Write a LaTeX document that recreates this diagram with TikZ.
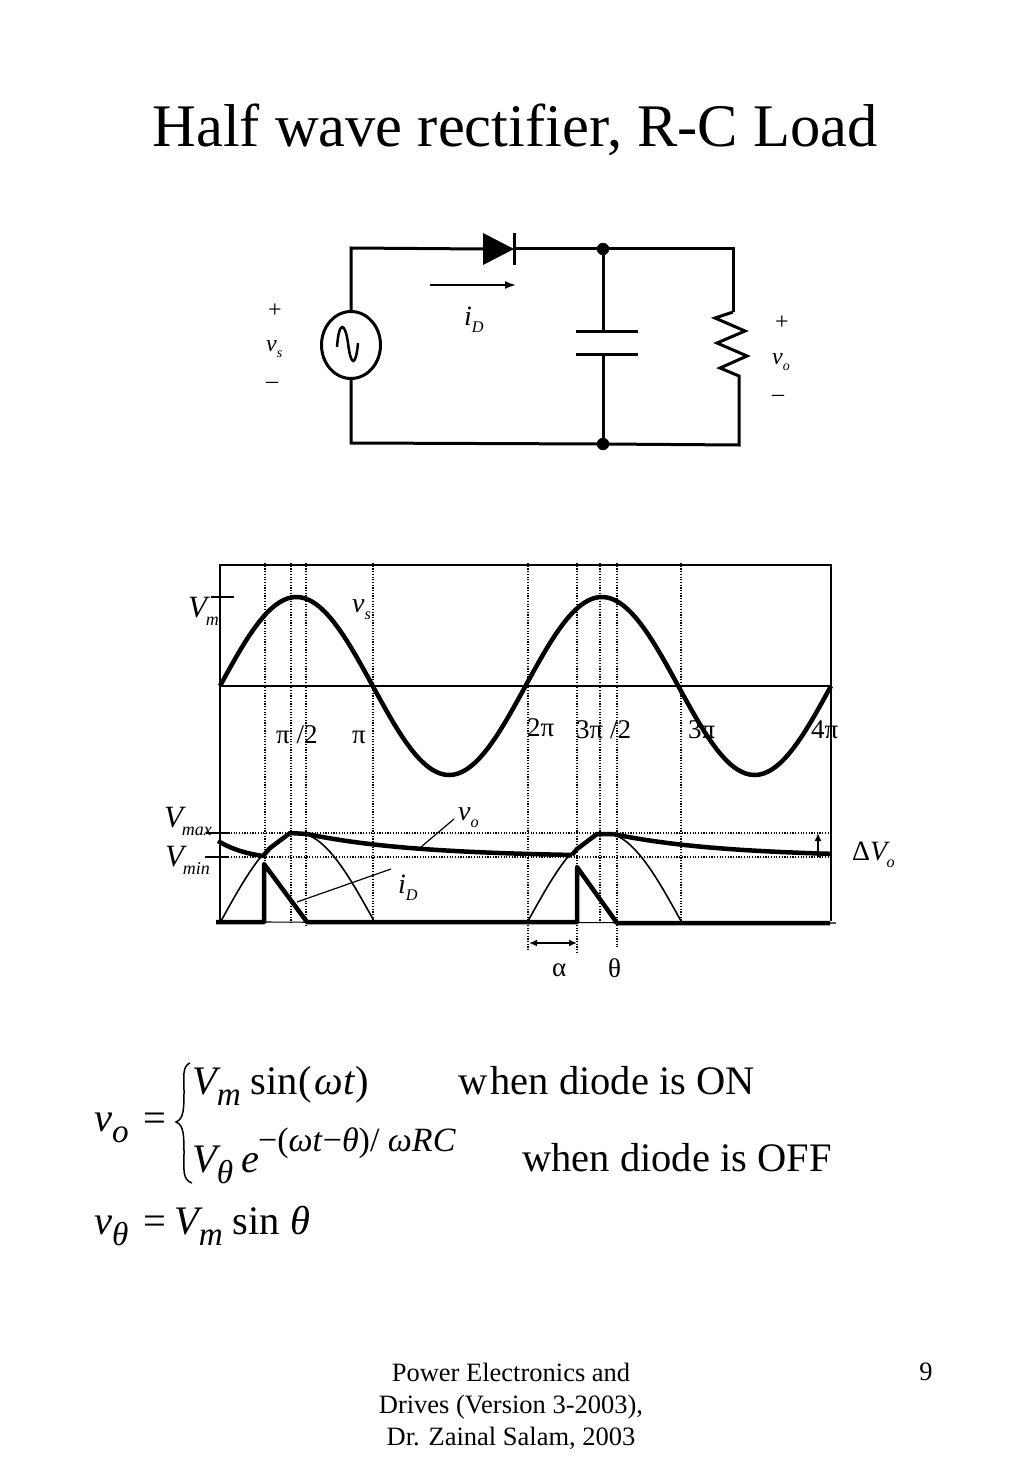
\documentclass[tikz,border=0pt]{standalone}
\usepackage{fontspec}
\setmainfont{Liberation Serif}
\usetikzlibrary{positioning,calc,shapes.geometric,arrows.meta}
\newcommand{\subsc}{.58}
\newcommand{\sym}[3][0em]{\textit{#2}\kern#1\raisebox{-.28em}{\scalebox{\subsc}{\textit{#3}}}}
\newcommand{\fs}[1]{\fontsize{#1}{#1}\selectfont}
\tikzset{
    wire/.style={line width=3pt},
    junction/.style={draw, fill, circle, inner sep=0pt, minimum size=12pt},
    % curves of the chart
    heavy/.style={line width=4.5pt, line join=round},
    thin curve/.style={line width=1.6pt},
    frame/.style={line width=1.2pt},
    guide/.style={line width=1.1pt, dash pattern=on 1.2pt off 1.5pt},
    leader/.style={line width=1.2pt},
    % text
    lbl/.style={inner sep=0pt, anchor=base west, font=\fs{28}},
    small lbl/.style={inner sep=0pt, anchor=base west, font=\fs{24}},
    tick lbl/.style={inner sep=0pt, anchor=base west, font=\fs{27}},
    volt lbl/.style={inner sep=0pt, anchor=base west, font=\fs{31}},
    eqn/.style={inner sep=0pt, anchor=base west, font=\fs{40.5}\renewcommand{\subsc}{.82}}
}
\begin{document}
\begin{tikzpicture}[x=1pt,y=-1pt]
\useasboundingbox (0,0) rectangle (1024,1479);
\node[inner sep=0pt, font=\fs{60.5}] (title) at (515,130) {Half wave rectifier, R-C Load};

% circuit
\coordinate (tl) at (351,248);
\coordinate (bl) at (351,443);
\coordinate (tr) at (733,249);
\coordinate (rtop) at (733,312);
\coordinate (rbot) at (739,376);
\coordinate (br) at (739,445);
\coordinate (da) at (483,249);
\coordinate (dk) at (514,249);
\coordinate (ctop) at (603,331);
\coordinate (cbot) at (603,354);
\node[draw, wire, ellipse, minimum width=59pt, minimum height=67pt, inner sep=0pt] (src) at (351,345) {};
\node[junction] (jt) at (603,249) {};
\node[junction] (jb) at (603,444) {};
\draw[wire] (src.north) -- (tl) -- (da);
\fill (483,233) -- (483,265) -- (dk) -- cycle;
\draw[wire] (514,233) -- (514,265);
\draw[wire] (dk) -- (jt) -- (tr) -- (rtop);
\draw[wire] (rtop) -- (715,318) -- (745,331) -- (717,343) -- (747,356) -- (720,368) -- (rbot) -- (br) -- (jb) -- (bl) -- (src.south);
\draw[wire] (jt) -- (ctop);
\draw[wire] (jb) -- (cbot);
\draw[wire] (576,331) -- (638,331);
\draw[wire] (576,354) -- (638,354);
\draw[line width=2.5pt] (337,347) .. controls (339,320) and (345,322) .. (348,343) .. controls (351,368) and (356,366) .. (358,343);
\coordinate (ia) at (430,285);
\coordinate (ib) at (516,285);
\draw[line width=1.8pt, -{Latex[length=11pt,width=8pt]}] (ia) -- (ib);
\node[lbl] (iD) at (464,325) {\sym{i}{D}};
\node[small lbl] (splus) at (268,317) {+};
\node[small lbl] (vs) at (266,351) {\sym{v}{s}};
\node[small lbl] (sminus) at (266,388) {–};
\node[small lbl] (oplus) at (775,329) {+};
\node[small lbl] (vo) at (772,364) {\sym{v}{o}};
\node[small lbl] (ominus) at (772,401) {–};

% chart
\draw[frame] (220,921) -- (220,565) -- (832,565);
\draw[frame] (831,565) -- (831,921);
\draw[frame] (220,686) -- (831,686);
\draw[frame] (216,922) -- (836,923);
\foreach \x/\yend in {265/921,291/923,306/925,373/921,528/950,577/953,600/921,617/947,681/921}
    \draw[guide] (\x,563) -- (\x,\yend);
\draw[guide] (220,833) -- (831,833);
\draw[guide] (220,857) -- (831,857);
\draw[heavy] plot[domain=0:720,samples=145] ({220+\x*0.8486},{686-89*sin(\x)});
% half sines under the output voltage
\foreach \s/\up/\dn in {221/50/105,528/50/105}{
    \draw[thin curve] plot[domain=0:\up,samples=20] ({\s+\x*0.85},{921-88*sin(\x)});
    \draw[thin curve] plot[domain=\dn:180,samples=30] ({\s+\x*0.85},{921-88*sin(\x)});
}
\draw[heavy] (218,841) .. controls (235,851) and (250,854) .. (263,856);
\draw[heavy] (263,856) -- (270,848) -- (290,833) -- (307,834);
\draw[heavy] plot[domain=0:265,samples=40] ({307+\x},{921-64-23*exp(-\x/110)});
\draw[heavy] (572,855) -- (577,849) -- (597,834) -- (613,834);
\draw[heavy] plot[domain=0:217,samples=40] ({613+\x},{921-64-23*exp(-\x/110)});
\draw[heavy] (216,922) -- (264,922) -- (264,864) -- (307,922) -- (577,922) -- (577,867) -- (617,923) -- (830,923);
% ticks
\foreach \a/\b/\yt in {211/234/597,206/230/833,205/228/857}
    \draw[leader] (\a,\yt) -- (\b,\yt);
\node[volt lbl] (Vm) at (188,617) {\sym[-.14em]{V}{m}};
\node[lbl] (vsc) at (352,612) {\sym{v}{s}};
\node[tick lbl] (t1) at (276,743) {π /2};
\node[tick lbl] (t2) at (352,743) {π};
\node[tick lbl] (t3) at (527,736) {2π};
\node[tick lbl] (t4) at (576,738) {3π /2};
\node[tick lbl] (t5) at (688,738) {3π};
\node[tick lbl] (t6) at (811,738) {4π};
\node[volt lbl] (Vmax) at (164,827) {\sym[-.14em]{V}{max}};
\node[volt lbl] (Vmin) at (165,866) {\sym[-.14em]{V}{min}};
\node[lbl] (voc) at (458,820) {\sym{v}{o}};
\node[lbl] (iDc) at (398,893) {\sym{i}{D}};
\node[lbl] (dV) at (852,860) {Δ\sym[-.12em]{V}{o}};
\node[tick lbl] (alpha) at (552,976) {α};
\node[tick lbl] (theta) at (608,977) {θ};
\coordinate (volead) at (421,847);
\coordinate (idlead) at (297,902);
\coordinate (vostart) at (454,819);
\coordinate (idstart) at (391,869);
\draw[leader] (vostart) -- (volead);
\draw[leader] (idstart) -- (idlead);
\coordinate (aa) at (529,943);
\coordinate (ab) at (577,943);
\draw[line width=1.6pt, {Latex[length=8pt,width=7pt]}-{Latex[length=8pt,width=7pt]}] (aa) -- (ab);
\coordinate (da1) at (818,857);
\coordinate (da2) at (818,833);
\draw[line width=1.6pt, -{Latex[length=8pt,width=7pt]}] (da1) -- (da2);

% equations
\node[eqn] (lhs) at (94,1131) {\sym{v}{o}};
\node[eqn] (eq1) at (143,1131) {=};
\draw[line width=1.5pt] (190,1063) .. controls (182,1066) and (184,1078) .. (184,1090) .. controls (184,1108) and (184,1119) .. (176,1122) .. controls (184,1125) and (184,1136) .. (184,1154) .. controls (184,1168) and (182,1180) .. (192,1183);
\node[eqn] (on) at (192,1094) {\sym[-.1em]{V}{m} sin(\kern3pt\textit{ωt})};
\node[eqn] (onw) at (458,1094) {w\hspace{3pt}hen diode is ON};
\node[eqn] (off) at (192,1172) {\sym[-.1em]{V}{θ}\kern.2em\textit{e}};
\node[eqn, font=\fs{34}] (pow) at (258,1151) {−(\textit{ωt}−\textit{θ})/ \textit{ωRC}};
\node[eqn] (offw) at (522,1171) {when diode is OFF};
\node[eqn] (lhs2) at (94,1234) {\sym{v}{θ}};
\node[eqn] (eq2) at (143,1234) {=};
\node[eqn] (rhs2) at (174,1234) {\sym[-.1em]{V}{m} sin \textit{θ}};

% footer
\node[inner sep=0pt, align=center, font=\fontsize{26.5}{32}\selectfont] (foot) at (511,1406) {Power Electronics and\\Drives (Version 3-2003),\\Dr. Zainal Salam, 2003};
\node[inner sep=0pt, font=\fs{26.5}] (page) at (926,1372) {9};
\end{tikzpicture}
\end{document}
